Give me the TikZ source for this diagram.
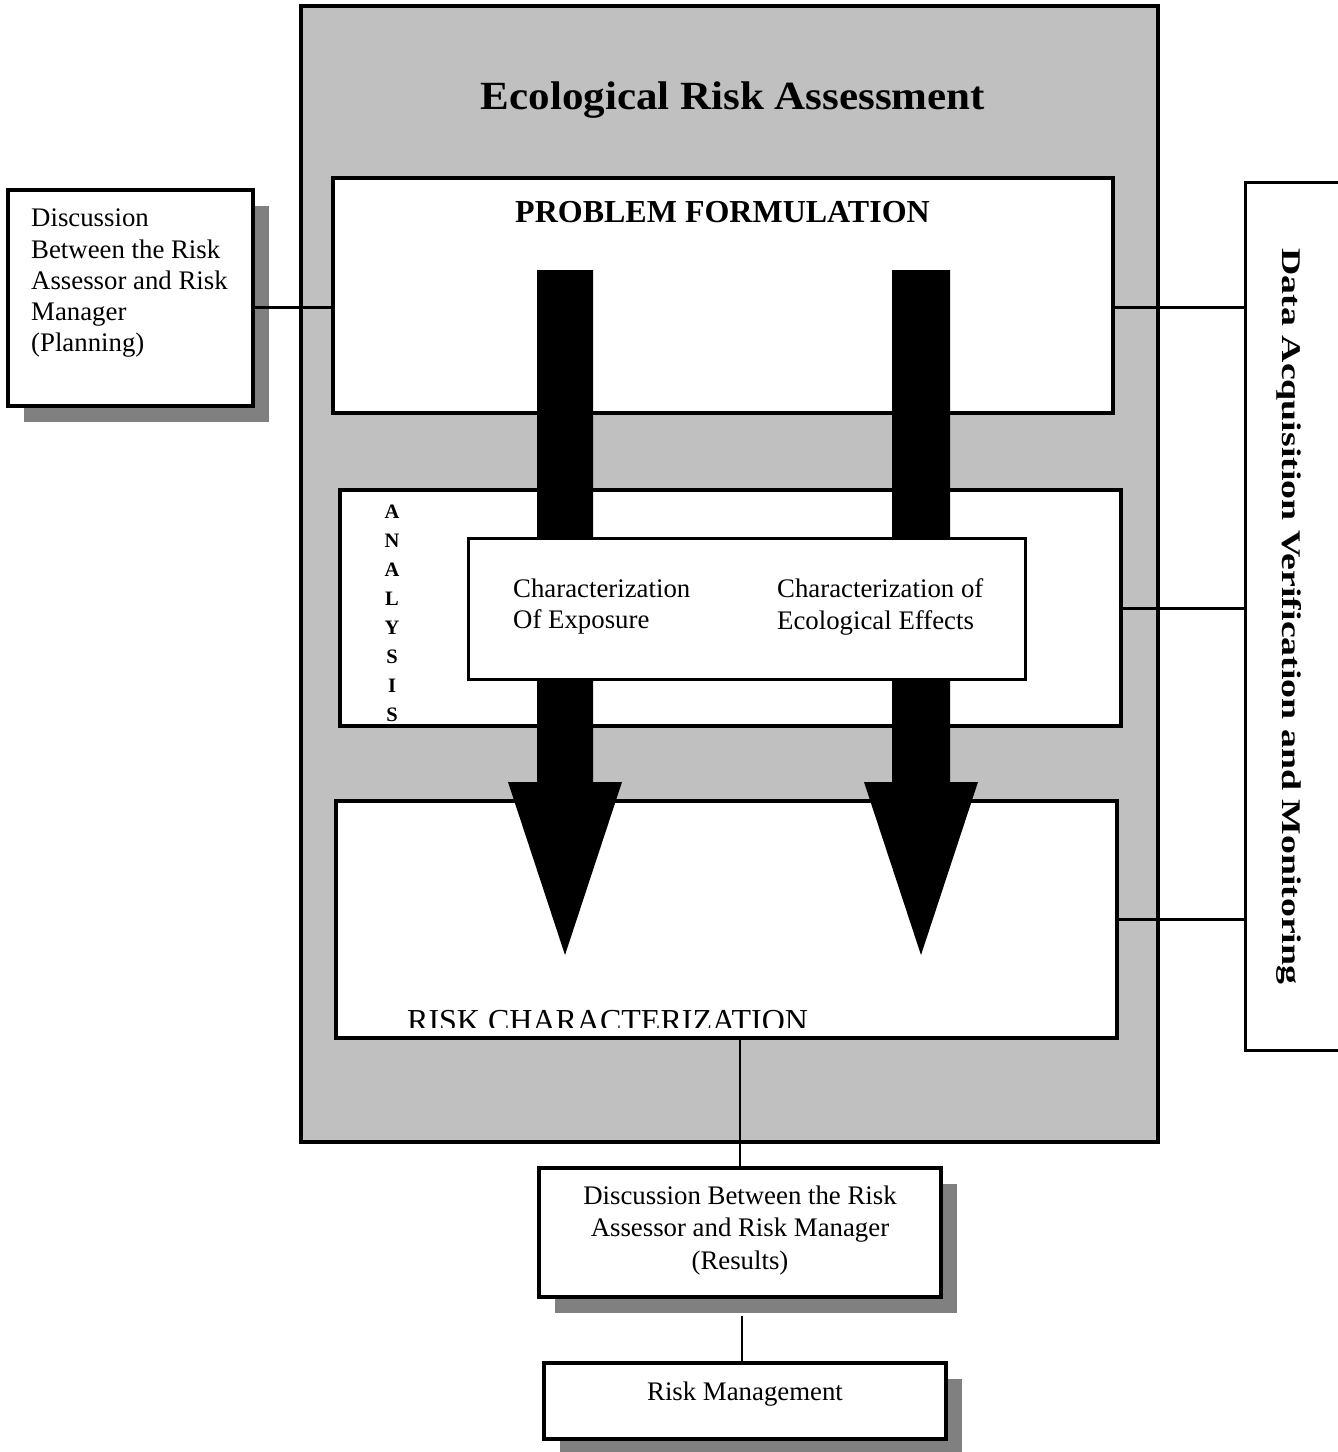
\documentclass[tikz,border=0pt]{standalone}
\usepackage{fontspec}
\setmainfont{Liberation Serif}
\usetikzlibrary{shadows}
\definecolor{erag}{RGB}{192,192,192}
\definecolor{shd}{RGB}{128,128,128}
\begin{document}
\begin{tikzpicture}[x=1pt,y=-1pt,
  box/.style={draw=black, fill=white, line width=3.4pt, inner sep=0pt, rectangle},
  shbox/.style={box, drop shadow={shadow xshift=16pt, shadow yshift=-16pt, fill=shd, opacity=1}},
  link/.style={draw=black, line width=3pt},
  thinlink/.style={draw=black, line width=1.4pt},
  bigarrow/.style={fill=black, draw=none},
  txt/.style={inner sep=0pt, font=\fontsize{26.8}{31.3}\selectfont},
  btxt/.style={inner sep=0pt, font=\bfseries\fontsize{32}{38}\selectfont},
]
\useasboundingbox (0,0) rectangle (1338,1452);

% outer gray box
\node[box, fill=erag, line width=4pt, minimum width=857pt, minimum height=1136pt] (era) at (729.5,574) {};
\node[inner sep=0pt, anchor=base, font=\bfseries\fontsize{40}{48}\selectfont] (title) at (733,109) {\scalebox{1.075}[1]{Ecological Risk Assessment}};

% stage boxes
\node[box, minimum width=780pt, minimum height=235pt] (pf) at (723,295.5) {};
\node[box, minimum width=781pt, minimum height=236pt] (an) at (730.5,608) {};
\node[box, minimum width=781pt, minimum height=237pt] (rc) at (726.5,919.5) {};

% big arrows
\fill[bigarrow] (537,270) -- (593,270) -- (593,782) -- (622,782) -- (565,955) -- (508,782) -- (537,782) -- cycle;
\fill[bigarrow] (892,270) -- (950,270) -- (950,782) -- (978,782) -- (921,955) -- (864,782) -- (892,782) -- cycle;

% inner characterization box
\node[box, line width=3pt, minimum width=557pt, minimum height=141pt] (ch) at (746.5,608.5) {};

% texts in the stage boxes
\node[btxt, anchor=base] (pftxt) at (722.5,222) {PROBLEM FORMULATION};
\node[inner sep=0pt, anchor=north, align=center, font=\bfseries\fontsize{20.5}{29}\selectfont] (antxt) at (392,505) {A\\N\\A\\L\\Y\\S\\I\\S};
\node[txt, anchor=north west, align=left] (cexp) at (513,578.7) {Characterization\\Of Exposure};
\node[txt, anchor=north west, align=left] (ceff) at (777,578.7) {Characterization of\\Ecological Effects};
\begin{scope}
  \clip (340,995) rectangle (1110,1027);
  \node[inner sep=0pt, anchor=base west, font=\fontsize{32}{38}\selectfont] (rctxt) at (407,1031) {RISK CHARACTERIZATION};
\end{scope}

% data acquisition box
\node[box, line width=3pt, minimum width=100pt, minimum height=868pt] (dav) at (1295,616) {};
\node[inner sep=0pt, rotate=-90, anchor=base, font=\bfseries\fontsize{27}{32}\selectfont] (davtxt) at (1282,616.5) {\scalebox{1.4}[1]{Data Acquisition Verification and Monitoring}};

% planning discussion box
\node[shbox, minimum width=245pt, minimum height=216pt] (disc) at (130.5,298) {};
\node[txt, anchor=north west, align=left] (disctxt) at (31,208.8) {Discussion\\Between the Risk\\Assessor and Risk\\Manager\\(Planning)};

% results discussion and risk management
\node[shbox, minimum width=402pt, minimum height=129pt] (res) at (740,1232.5) {};
\node[txt, anchor=north, align=center, font=\fontsize{26.8}{32.3}\selectfont] (restxt) at (740,1185.8) {Discussion Between the Risk\\Assessor and Risk Manager\\(Results)};
\node[shbox, minimum width=402pt, minimum height=76pt] (rm) at (745,1401) {};
\node[txt, anchor=base] (rmtxt) at (745,1400) {Risk Management};

% connectors
\coordinate (r1) at (0,307);
\draw[link] (disc.east |- r1) -- ([xshift=3pt]pf.west |- r1);
\draw[link] (pf.east |- r1) -- (dav.west |- r1);
\draw[link] ([xshift=-4pt]an.east) -- (dav.west |- an.east);
\draw[link] (rc.east) -- (dav.west |- rc.east);
\draw[thinlink] (res.north |- rc.south) -- (res.north);
\coordinate (r2) at (742,1316);
\draw[thinlink] (r2) -- (r2 |- rm.north);
\end{tikzpicture}
\end{document}
